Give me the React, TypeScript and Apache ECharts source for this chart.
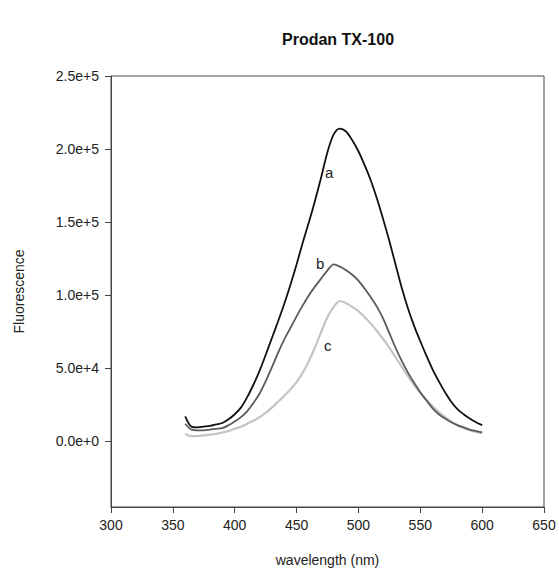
import React, { useEffect, useRef } from "react";
import * as echarts from "echarts";

const wavelengths = [
  360, 365, 370, 375, 380, 385, 390, 395, 400, 405, 410, 415, 420, 425, 430, 435, 440, 445, 450, 455,
  460, 465, 470, 475, 480, 485, 490, 495, 500, 505, 510, 515, 520, 525, 530, 535, 540, 545, 550, 555,
  560, 565, 570, 575, 580, 585, 590, 595, 600,
];

const seriesA = [
  17000, 10000, 9500, 10000, 10500, 11500, 12500, 15000, 18500, 23000, 30000, 38500, 48000, 59000, 70500, 82000, 94000, 107000, 121000, 136000,
  150000, 165000, 181000, 198000, 210000, 214000, 212000, 206000, 198500, 189000, 178500, 166000, 152000, 137000, 121000, 105000, 91000, 79000, 68500, 58500,
  49000, 41000, 33500, 27000, 22000, 18500, 15500, 13000, 11000,
];

const seriesB = [
  12000, 8000, 7500, 7500, 8000, 8500, 9000, 11000, 13500, 16500, 20500, 26000, 32500, 41000, 50500, 60500, 69500, 77500, 85500, 93000,
  100000, 106000, 111500, 117000, 121000, 119500, 117000, 114000, 110000, 104500, 98500, 92000, 84000, 74000, 64000, 55000, 47000, 40000, 33500, 28000,
  22500, 18500, 15500, 13000, 11000, 9500, 8000, 7000, 6000,
];

const seriesC = [
  5000, 3500, 3500, 4000, 4500, 5000, 6000, 7000, 8500, 10000, 12000, 14000, 16500, 19500, 23000, 27000, 31000, 35500, 40500, 47000,
  55000, 64500, 75000, 85000, 92000, 96000, 94500, 92000, 89000, 85000, 80500, 75500, 70000, 64000, 57500, 51000, 44500, 38500, 33000, 28000,
  24000, 20000, 16500, 13500, 11000, 9000, 7500, 6300, 5500,
];

const yTicks = [0, 50000, 100000, 150000, 200000, 250000];

const fmtSci = (v: number) => {
  if (v === 0) return "0.0e+0";
  const e = Math.floor(Math.log10(Math.abs(v)));
  const m = v / Math.pow(10, e);
  return m.toFixed(1) + "e+" + e;
};

const FONT = "Liberation Sans, Arial, sans-serif";

export default function App() {
  const ref = useRef<HTMLDivElement>(null);
  useEffect(() => {
    if (!ref.current) return;
    const chart = echarts.init(ref.current, null, { renderer: "svg" });
    const mk = (arr: number[]) => wavelengths.map((w, i) => [w, arr[i]]);
    chart.setOption({
      animation: false,
      backgroundColor: "#ffffff",
      textStyle: { fontFamily: FONT },
      grid: {
        left: 111,
        right: 15,
        top: 76,
        bottom: 64,
        show: true,
        borderColor: "#444",
        borderWidth: 1,
        backgroundColor: "transparent",
      },
      xAxis: {
        type: "value",
        min: 300,
        max: 650,
        interval: 50,
        name: "wavelength (nm)",
        nameLocation: "middle",
        nameGap: 46,
        nameTextStyle: { fontSize: 14, color: "#222", fontFamily: FONT },
        axisLine: { show: true, onZero: false, lineStyle: { color: "#444", width: 1 } },
        axisTick: { show: true, inside: false, length: 6, lineStyle: { color: "#444" } },
        axisLabel: { fontSize: 14, color: "#222", margin: 11, fontFamily: FONT },
        splitLine: { show: false },
      },
      yAxis: {
        type: "value",
        min: -45000,
        max: 250000,
        name: "Fluorescence",
        nameLocation: "middle",
        nameGap: 85,
        nameRotate: 90,
        nameTextStyle: { fontSize: 14, color: "#222", fontFamily: FONT },
        axisLine: { show: true, onZero: false, lineStyle: { color: "#444", width: 1 } },
        axisTick: { show: true, length: 6, customValues: yTicks, lineStyle: { color: "#444" } },
        axisLabel: {
          fontSize: 14,
          color: "#222",
          margin: 12,
          fontFamily: FONT,
          customValues: yTicks,
          formatter: (v: number) => fmtSci(v),
        },
        splitLine: { show: false },
      },
      graphic: [
        {
          type: "text",
          left: 282,
          top: 31,
          style: { text: "Prodan TX-100", font: "bold 16px " + FONT, fill: "#111" },
        },
        { type: "text", left: 325, top: 165, style: { text: "a", font: "15px " + FONT, fill: "#222" } },
        { type: "text", left: 316, top: 256, style: { text: "b", font: "15px " + FONT, fill: "#222" } },
        { type: "text", left: 324, top: 338, style: { text: "c", font: "15px " + FONT, fill: "#222" } },
      ],
      series: [
        {
          name: "c",
          type: "line",
          data: mk(seriesC),
          showSymbol: false,
          symbol: "none",
          smooth: 0.3,
          lineStyle: { color: "#c4c4c4", width: 2.2 },
        },
        {
          name: "b",
          type: "line",
          data: mk(seriesB),
          showSymbol: false,
          symbol: "none",
          smooth: 0.3,
          lineStyle: { color: "#5a5a5a", width: 1.8 },
        },
        {
          name: "a",
          type: "line",
          data: mk(seriesA),
          showSymbol: false,
          symbol: "none",
          smooth: 0.3,
          lineStyle: { color: "#111111", width: 1.8 },
        },
      ],
    });
    return () => chart.dispose();
  }, []);
  return (
    <div
      ref={ref}
      style={{ position: "absolute", left: 0, top: 0, width: 559, height: 572 }}
    />
  );
}
